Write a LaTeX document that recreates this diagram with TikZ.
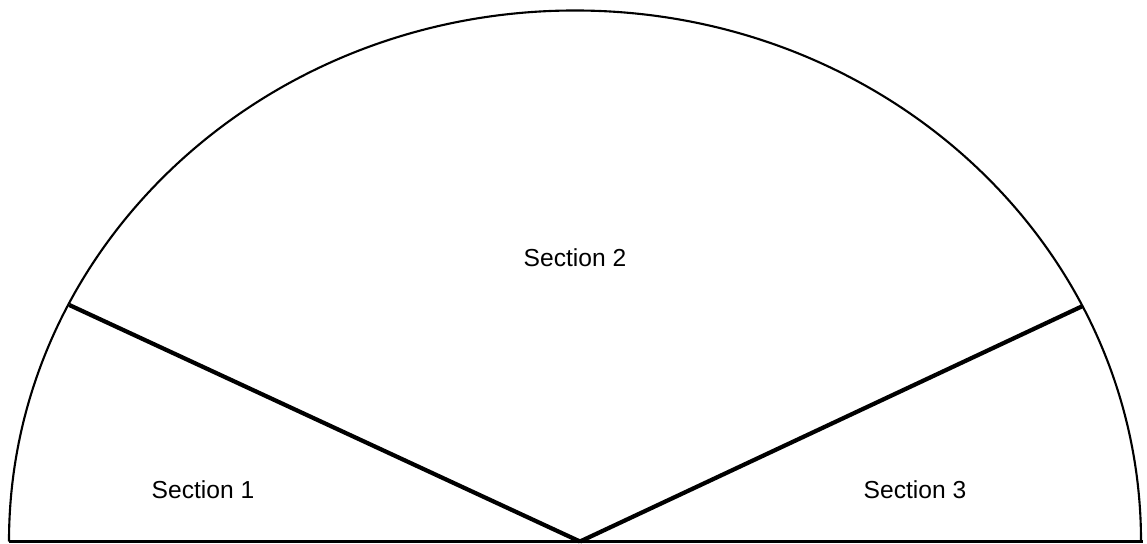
\documentclass[tikz,border=0pt]{standalone}
\usepackage{fontspec}
\setmainfont{Liberation Sans}
\usepackage{xcolor}
\usepackage{tikz}
\definecolor{Ink}{HTML}{000000}
\tikzset{
  rim/.style={Ink,line width=0.6pt},
  divider/.style={Ink,line width=1.2pt},
  sectionlabel/.style={Ink,font=\fontsize{7}{8.4}\selectfont}
}

\begin{document}
\begin{tikzpicture}[x=1cm,y=1cm]
  \useasboundingbox (0,0) rectangle (11.47,5.43);
  \coordinate (west) at (0.09,0.015);
  \coordinate (east) at (11.43,0.015);
  \coordinate (hub) at (5.80,0.015);
  \coordinate (leftcut) at (0.693,2.38);
  \coordinate (rightcut) at (10.827,2.37);
  \draw[rim] (west) -- (east);
  \draw[rim] (west) arc[start angle=180,end angle=0,x radius=5.66,y radius=5.31];
  \draw[divider] (hub) -- (leftcut);
  \draw[divider] (hub) -- (rightcut);
  \node[sectionlabel] (sone) at (2.03,0.53) {Section 1};
  \node[sectionlabel] (stwo) at (5.75,2.85) {Section 2};
  \node[sectionlabel] (sthree) at (9.15,0.53) {Section 3};
\end{tikzpicture}
\end{document}
